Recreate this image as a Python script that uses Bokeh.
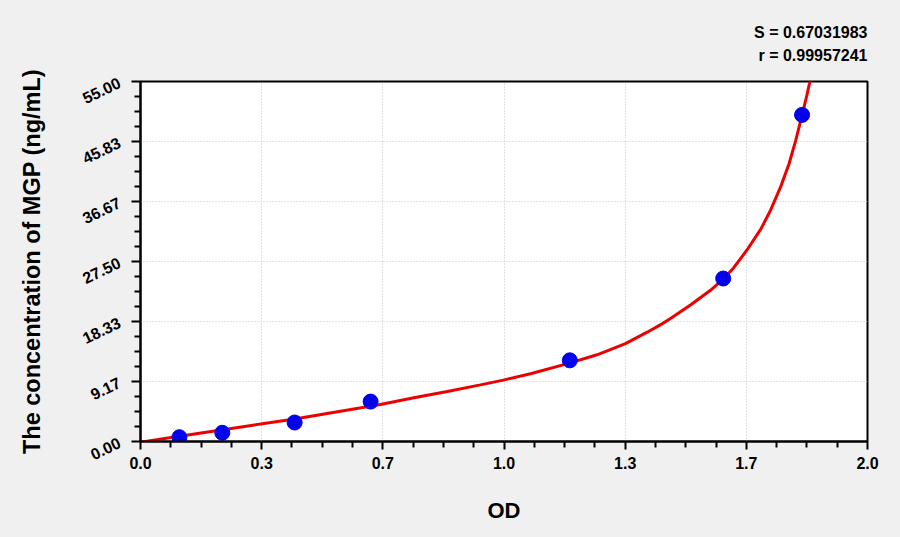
from bokeh.plotting import figure
from bokeh.models import FixedTicker, Title, Range1d
from bokeh.embed import file_html
from bokeh.resources import INLINE

# ---- data ----
od = [0.107, 0.225, 0.424, 0.633, 1.181, 1.603, 1.820]
conc = [0.66, 1.33, 2.9, 6.1, 12.4, 24.9, 49.9]

curve_od = [0.0, 0.107, 0.25, 0.424, 0.660, 0.752, 0.844, 0.935, 0.998, 1.073,
            1.180, 1.256, 1.334, 1.394, 1.431, 1.458, 1.513, 1.568, 1.603, 1.632,
            1.669, 1.706, 1.733, 1.761, 1.784, 1.802, 1.818, 1.832, 1.840, 1.848]
curve_conc = [-0.1, 0.8, 2.0, 3.45, 5.65, 6.67, 7.65, 8.65, 9.38, 10.34,
              11.97, 13.25, 14.95, 16.7, 17.85, 18.8, 20.85, 23.1, 24.8, 26.55,
              29.3, 32.4, 35.3, 38.9, 42.4, 45.9, 49.4, 52.6, 54.6, 56.8]

x_ticks = [0.0, 1/3, 2/3, 1.0, 4/3, 5/3, 2.0]
x_tick_labels = ["0.0", "0.3", "0.7", "1.0", "1.3", "1.7", "2.0"]
y_ticks = [0.0, 55/6, 55/3, 27.5, 110/3, 275/6, 55.0]
y_tick_labels = ["0.00", "9.17", "18.33", "27.50", "36.67", "45.83", "55.00"]

stats = ["S = 0.67031983", "r = 0.99957241"]

BG = "#f0f0f0"
FONT = "Liberation Sans"

p = figure(width=900, height=537, frame_width=727, frame_height=360,
           x_range=Range1d(0, 2.0), y_range=Range1d(0, 55),
           output_backend="svg", toolbar_location=None, title_location=None,
           min_border_left=140, min_border_right=33, min_border_top=81, min_border_bottom=96)
p.background_fill_color = "white"
p.border_fill_color = BG
p.outline_line_color = "black"
p.outline_line_width = 2

# minor ticks
x_minor = []
for i in range(6):
    for k in range(1, 4):
        x_minor.append(x_ticks[i] + (x_ticks[i+1] - x_ticks[i]) * k / 4)
y_minor = []
for i in range(6):
    for k in range(1, 4):
        y_minor.append(y_ticks[i] + (y_ticks[i+1] - y_ticks[i]) * k / 4)

p.xaxis.ticker = FixedTicker(ticks=x_ticks, minor_ticks=x_minor)
p.yaxis.ticker = FixedTicker(ticks=y_ticks, minor_ticks=y_minor)
p.xaxis.major_label_overrides = {t: l for t, l in zip(x_ticks, x_tick_labels)}
p.yaxis.major_label_overrides = {t: l for t, l in zip(y_ticks, y_tick_labels)}

for ax in (p.xaxis, p.yaxis):
    ax.axis_line_color = "black"
    ax.axis_line_width = 2
    ax.major_tick_line_color = "black"
    ax.minor_tick_line_color = "black"
    ax.major_tick_line_width = 2
    ax.minor_tick_line_width = 2
    ax.major_tick_in = 0
    ax.minor_tick_in = 0
    ax.major_label_text_font = FONT
    ax.major_label_text_font_style = "bold"
    ax.major_label_text_color = "black"
    ax.axis_label_text_font = FONT
    ax.axis_label_text_font_style = "bold"
    ax.axis_label_text_color = "black"

p.xaxis.major_tick_out = 8
p.xaxis.minor_tick_out = 6
p.yaxis.major_tick_out = 9
p.yaxis.minor_tick_out = 6
p.xaxis.major_label_text_font_size = "16px"
p.yaxis.major_label_text_font_size = "16px"
p.xaxis.major_label_standoff = 7
p.yaxis.major_label_standoff = 12
p.yaxis.major_label_orientation = 0.45

p.xaxis.axis_label = "OD"
p.yaxis.axis_label = "The concentration of MGP (ng/mL)"
p.xaxis.axis_label_text_font_size = "22px"
p.yaxis.axis_label_text_font_size = "23.5px"
p.xaxis.axis_label_standoff = 26
p.yaxis.axis_label_standoff = 30

p.xgrid.ticker = FixedTicker(ticks=x_ticks)
p.ygrid.ticker = FixedTicker(ticks=y_ticks)
for g in (p.xgrid, p.ygrid):
    g.grid_line_color = "#c4c4c4"
    g.grid_line_dash = "1 2"
    g.grid_line_width = 1

p.line(curve_od, curve_conc, line_color="#ee0000", line_width=3)
p.scatter(od, conc, size=15, fill_color="#0000ee", line_color="#0000ee")

# stats text above the frame, right aligned, two lines
# (a no-break space pads the shorter "r" line so both lines end at the same x)
stats_text = stats[0] + "\n" + "\u00a0" + stats[1]
p.add_layout(Title(text=stats_text, align="right", text_font=FONT, text_font_style="bold",
                   text_font_size="16px", text_color="black", text_line_height=1.4,
                   standoff=34), "above")

html = file_html(p, INLINE)
html = html.replace("<head>", "<head><style>body{background:%s;}</style>" % BG, 1)
open("out.html", "w").write(html)
